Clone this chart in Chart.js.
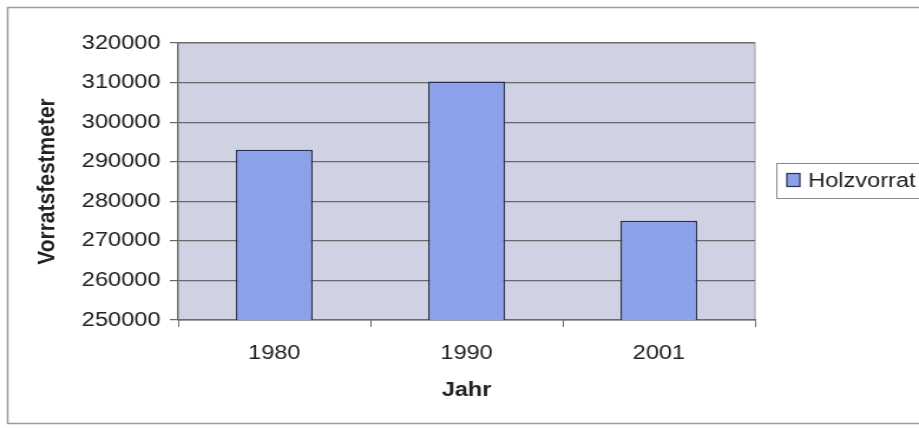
<!DOCTYPE html>
<html>
<head>
<meta charset="utf-8">
<script src="https://cdn.jsdelivr.net/npm/chart.js@4.4.1/dist/chart.umd.min.js"></script>
<style>
  html, body { margin: 0; padding: 0; background: #ffffff; overflow: hidden; }
  #wrap { width: 779px; height: 428px; transform: scaleX(1.1797); transform-origin: 0 0; }
  canvas { display: block; }
</style>
</head>
<body>
<div id="wrap"><canvas id="c" width="779" height="428"></canvas></div>
<script>
// Holzvorrat in Vorratsfestmetern je Erhebungsjahr
const years = ['1980', '1990', '2001'];
const holzvorrat = [293000, 310300, 275100];
const seriesName = 'Holzvorrat';
const yMin = 250000;
const yMax = 320000;
const yStep = 10000;

const FONT = 'Arial, "Liberation Sans", Helvetica, sans-serif';
const TEXT = '#222222';
const BAR_FILL = '#8ca1ea';
const BAR_EDGE = '#243052';

// Frame, plot background and legend box
const decor = {
  id: 'decor',
  beforeDraw(chart) {
    const { ctx, chartArea: a } = chart;
    ctx.save();
    ctx.fillStyle = '#ffffff';
    ctx.fillRect(0, 0, chart.width, chart.height);
    // outer frame
    ctx.strokeStyle = '#9a9a9a';
    ctx.lineWidth = 1.5;
    ctx.strokeRect(6.5, 7.5, chart.width + 20, 416);
    // plot area
    ctx.fillStyle = '#d1d1e4';
    ctx.fillRect(a.left, a.top, a.right - a.left, a.bottom - a.top);
    ctx.strokeStyle = '#9c9cac';
    ctx.lineWidth = 1;
    ctx.strokeRect(a.left, a.top, a.right - a.left, a.bottom - a.top);
    ctx.restore();
  },
  afterDraw(chart) {
    const { ctx } = chart;
    ctx.save();
    const bx = 658.5, by = 163.5, bh = 35;
    ctx.fillStyle = '#ffffff';
    ctx.fillRect(bx, by, chart.width, bh);
    ctx.strokeStyle = '#8a8a8a';
    ctx.lineWidth = 1;
    ctx.strokeRect(bx, by, chart.width, bh);
    // swatch
    ctx.fillStyle = BAR_FILL;
    ctx.fillRect(667, 173.5, 11, 13);
    ctx.strokeStyle = BAR_EDGE;
    ctx.lineWidth = 1.2;
    ctx.strokeRect(667, 173.5, 11, 13);
    // label
    ctx.fillStyle = TEXT;
    ctx.font = '20px ' + FONT;
    ctx.textBaseline = 'middle';
    ctx.textAlign = 'left';
    ctx.fillText(seriesName, 685, 181);
    ctx.restore();
  }
};

new Chart(document.getElementById('c'), {
  type: 'bar',
  data: {
    labels: years,
    datasets: [{
      label: seriesName,
      data: holzvorrat,
      backgroundColor: BAR_FILL,
      borderColor: BAR_EDGE,
      borderWidth: 1.5,
      borderSkipped: false,
      categoryPercentage: 1.0,
      barPercentage: 0.4
    }]
  },
  options: {
    responsive: false,
    maintainAspectRatio: false,
    devicePixelRatio: 1,
    animation: false,
    layout: { padding: { left: 0, top: 43, right: 139, bottom: 0 } },
    plugins: {
      legend: { display: false },
      tooltip: { enabled: false },
      title: { display: false }
    },
    scales: {
      x: {
        offset: true,
        grid: {
          offset: true,
          drawOnChartArea: false,
          drawTicks: true,
          tickLength: 7,
          color: '#6a6a6a',
          lineWidth: 1
        },
        border: { display: true, color: '#6a6a6a', width: 1.2 },
        ticks: {
          color: TEXT,
          font: { family: FONT, size: 20 },
          padding: 14,
          maxRotation: 0
        },
        title: {
          display: true,
          text: 'Jahr',
          color: TEXT,
          font: { family: FONT, size: 20, weight: 'bold' },
          padding: { top: 0, bottom: 26 }
        },
        afterFit(scale) { scale.height = 108; }
      },
      y: {
        min: yMin,
        max: yMax,
        grid: {
          color: '#686868',
          lineWidth: 1.2,
          drawTicks: true,
          tickLength: 7
        },
        border: { display: true, color: '#6a6a6a', width: 1.2 },
        ticks: {
          stepSize: yStep,
          color: TEXT,
          font: { family: FONT, size: 20 },
          padding: 8,
          callback: (v) => String(v)
        },
        title: {
          display: true,
          text: 'Vorratsfestmeter',
          color: TEXT,
          font: { family: FONT, size: 21, weight: 'bold' },
          padding: { top: 28, bottom: 0 }
        },
        afterFit(scale) { scale.width = 151; }
      }
    }
  },
  plugins: [decor]
});
</script>
</body>
</html>
